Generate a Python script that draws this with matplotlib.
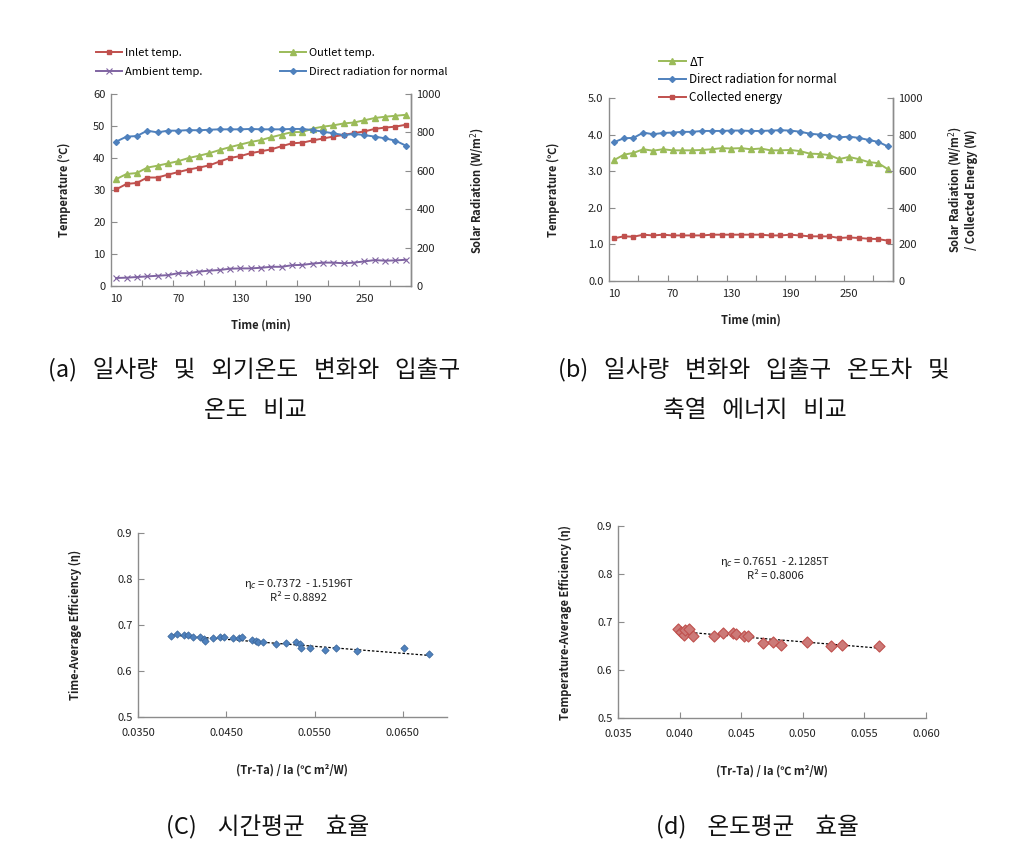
import numpy as np
import matplotlib
matplotlib.use('Agg')
import matplotlib.pyplot as plt
from matplotlib.ticker import FixedLocator, FormatStrFormatter

plt.rcParams['font.family'] = ['Noto Sans CJK KR', 'DejaVu Sans']
plt.rcParams['axes.unicode_minus'] = False

# ── Data ───────────────────────────────────────────────────────────────────────
time_min = [10, 20, 30, 40, 50, 60, 70, 80, 90, 100, 110, 120, 130, 140, 150,
            160, 170, 180, 190, 200, 210, 220, 230, 240, 250, 260, 270, 280, 290]
time_labels = [10, 70, 130, 190, 250]

# (a) temperatures [C] and radiation [W/m2]
inlet_temp = [30.2, 31.9, 32.2, 33.9, 33.9, 34.8, 35.6, 36.4, 37.0, 37.7, 38.9,
              40.0, 40.6, 41.5, 42.1, 42.7, 43.7, 44.6, 44.8, 45.5, 46.1, 46.7,
              47.2, 47.8, 48.3, 49.1, 49.5, 49.8, 50.4]
outlet_temp = [33.4, 35.0, 35.3, 37.0, 37.6, 38.3, 39.0, 40.0, 40.7, 41.5, 42.5,
               43.4, 44.2, 45.0, 45.6, 46.5, 47.3, 48.1, 48.1, 49.2, 49.8, 50.2,
               50.8, 51.1, 51.8, 52.5, 52.9, 53.2, 53.5]
ambient_temp = [2.5, 2.6, 2.8, 3.0, 3.2, 3.4, 4.0, 4.0, 4.5, 4.8, 5.0, 5.4, 5.5,
                5.5, 5.7, 6.0, 6.0, 6.5, 6.6, 7.0, 7.3, 7.3, 7.1, 7.3, 7.7, 8.1,
                7.9, 8.0, 8.2]
direct_rad_a = [752, 778, 781, 809, 800, 809, 809, 812, 811, 814, 816, 816, 816,
                818, 816, 816, 816, 818, 818, 812, 804, 795, 786, 792, 786, 778,
                769, 757, 731]

# (b) delta T [C], radiation [W/m2], collected energy [W]
delta_t = [3.30, 3.45, 3.50, 3.60, 3.56, 3.60, 3.57, 3.57, 3.57, 3.58, 3.60,
           3.63, 3.62, 3.63, 3.60, 3.62, 3.57, 3.57, 3.58, 3.55, 3.48, 3.47,
           3.44, 3.33, 3.39, 3.33, 3.25, 3.22, 3.05]
direct_rad_b = [758, 780, 782, 811, 802, 809, 811, 815, 815, 820, 820, 820, 822,
                822, 820, 820, 822, 824, 822, 816, 805, 800, 795, 785, 789, 782,
                771, 760, 735]
collected_energy = [233, 244, 242, 253, 249, 253, 249, 249, 249, 249, 253, 253,
                    253, 253, 253, 253, 249, 249, 253, 249, 244, 244, 244, 235,
                    238, 235, 231, 229, 220]

# (c) time-average efficiency
c_x = [0.03877, 0.03942, 0.04017, 0.04070, 0.04123, 0.04198, 0.04243, 0.04255,
       0.04345, 0.04432, 0.04477, 0.04575, 0.04640, 0.04674, 0.04791, 0.04840,
       0.04855, 0.04915, 0.05058, 0.05172, 0.05285, 0.05338, 0.05345, 0.05451,
       0.05621, 0.05745, 0.05979, 0.06508, 0.06791]
c_y = [0.677, 0.681, 0.679, 0.678, 0.674, 0.673, 0.670, 0.665, 0.672, 0.675,
       0.673, 0.672, 0.671, 0.673, 0.667, 0.665, 0.662, 0.664, 0.658, 0.661,
       0.662, 0.658, 0.649, 0.651, 0.645, 0.651, 0.644, 0.650, 0.636]
c_a, c_b = 0.7372, -1.5196

# (d) temperature-average efficiency
d_x = [0.03984, 0.04011, 0.04032, 0.04046, 0.04073, 0.04108, 0.04281, 0.04349,
       0.04430, 0.04459, 0.04519, 0.04559, 0.04676, 0.04757, 0.04822, 0.05032,
       0.05230, 0.05319, 0.05622]
d_y = [0.686, 0.680, 0.672, 0.683, 0.685, 0.671, 0.670, 0.677, 0.677, 0.674,
       0.671, 0.670, 0.656, 0.659, 0.652, 0.658, 0.650, 0.653, 0.650]
d_a, d_b = 0.7651, -2.1285

# ── Style ──────────────────────────────────────────────────────────────────────
RED    = '#C0504D'
GREEN  = '#9BBB59'
PURPLE = '#8064A2'
BLUE   = '#4F81BD'
SPINE  = '#8c8c8c'
TXT    = '#222222'

W, H = 1029, 856
fig = plt.figure(figsize=(W / 100, H / 100), dpi=100)
fig.patch.set_facecolor('white')


def px_axes(x0, y0, x1, y1):
    """Axes from pixel box (top-left origin)."""
    return fig.add_axes([x0 / W, 1 - y1 / H, (x1 - x0) / W, (y1 - y0) / H])


def style_axes(ax, right=False):
    ax.spines['top'].set_visible(False)
    if not right:
        ax.spines['right'].set_visible(False)
    for side in ('left', 'bottom', 'right'):
        ax.spines[side].set_color(SPINE)
        ax.spines[side].set_linewidth(1.0)
    ax.tick_params(direction='in', length=4, width=0.8, color=SPINE,
                   labelsize=8, labelcolor=TXT, pad=4)


def time_axis(ax):
    ax.set_xlim(5, 295)
    ax.xaxis.set_major_locator(FixedLocator(time_labels))
    ax.xaxis.set_minor_locator(FixedLocator(np.arange(35, 295, 30)))
    ax.tick_params(axis='x', which='major', length=0, pad=6)
    ax.tick_params(axis='x', which='minor', direction='in', length=4,
                   width=0.8, color=SPINE)
    ax.set_xlabel('Time (min)', fontsize=8, fontweight='bold', color=TXT,
                  labelpad=10)


label_kw = dict(fontsize=8, fontweight='bold', color=TXT)

# ── (a) ────────────────────────────────────────────────────────────────────────
ax_a = px_axes(111, 94, 411, 286)
ax_a2 = ax_a.twinx()
style_axes(ax_a, right=True)
style_axes(ax_a2, right=True)
ax_a2.spines['left'].set_visible(False)
ax_a2.spines['bottom'].set_visible(False)

l_in, = ax_a.plot(time_min, inlet_temp, color=RED, lw=1.4, marker='s', ms=3.5,
                  label='Inlet temp.')
l_out, = ax_a.plot(time_min, outlet_temp, color=GREEN, lw=1.4, marker='^', ms=4,
                   label='Outlet temp.')
l_amb, = ax_a.plot(time_min, ambient_temp, color=PURPLE, lw=1.4, marker='x', ms=4,
                   mew=0.8, label='Ambient temp.')
l_dir, = ax_a2.plot(time_min, direct_rad_a, color=BLUE, lw=1.4, marker='D', ms=3,
                    label='Direct radiation for normal')

ax_a.set_ylim(0, 60)
ax_a.set_yticks(np.arange(0, 61, 10))
ax_a2.set_ylim(0, 1000)
ax_a2.set_yticks(np.arange(0, 1001, 200))
time_axis(ax_a)
ax_a.set_ylabel('Temperature (℃)', labelpad=16, **label_kw)
ax_a2.set_ylabel('Solar Radiation (W/m$^2$)', labelpad=20, **label_kw)

fig.legend(handles=[l_in, l_amb, l_out, l_dir], ncol=2, frameon=False,
           loc='upper left', bbox_to_anchor=(86 / W, 1 - 38 / H),
           fontsize=8, handlelength=2.3, handletextpad=0.3,
           columnspacing=7.0, labelspacing=0.8)

# ── (b) ────────────────────────────────────────────────────────────────────────
ax_b = px_axes(609, 98, 893, 281)
ax_b2 = ax_b.twinx()
style_axes(ax_b, right=True)
style_axes(ax_b2, right=True)
ax_b2.spines['left'].set_visible(False)
ax_b2.spines['bottom'].set_visible(False)

l_dt, = ax_b.plot(time_min, delta_t, color=GREEN, lw=1.4, marker='^', ms=4,
                  label='ΔT')
l_dr, = ax_b2.plot(time_min, direct_rad_b, color=BLUE, lw=1.4, marker='D', ms=3,
                   label='Direct radiation for normal')
l_ce, = ax_b2.plot(time_min, collected_energy, color=RED, lw=1.4, marker='s',
                   ms=3.5, label='Collected energy')

ax_b.set_ylim(0, 5)
ax_b.set_yticks(np.arange(0, 5.01, 1.0))
ax_b.yaxis.set_major_formatter(FormatStrFormatter('%.1f'))
ax_b2.set_ylim(0, 1000)
ax_b2.set_yticks(np.arange(0, 1001, 200))
time_axis(ax_b)
ax_b.set_ylabel('Temperature (℃)', labelpad=20, **label_kw)
ax_b2.set_ylabel('Solar Radiation (W/m$^2$)\n/ Collected Energy (W)',
                 labelpad=17, linespacing=1.1, **label_kw)

fig.legend(handles=[l_dt, l_dr, l_ce], frameon=False, loc='upper left',
           bbox_to_anchor=(648 / W, 1 - 45 / H), fontsize=8.5,
           handlelength=2.3, handletextpad=0.3, labelspacing=0.4)

# ── (c) ────────────────────────────────────────────────────────────────────────
ax_c = px_axes(138, 533, 447, 717)
style_axes(ax_c)
ax_c.scatter(c_x, c_y, marker='D', s=14, color=BLUE, edgecolor='#3a6699',
             linewidth=0.5, zorder=3)
tx = np.array([min(c_x), max(c_x)])
ax_c.plot(tx, c_a + c_b * tx, color='black', lw=0.9, ls=(0, (2, 1.5)), zorder=2)
ax_c.set_xlim(0.035, 0.070)
ax_c.set_xticks([0.035, 0.045, 0.055, 0.065])
ax_c.xaxis.set_major_formatter(FormatStrFormatter('%.4f'))
ax_c.tick_params(axis='x', pad=8)
ax_c.set_ylim(0.5, 0.9)
ax_c.set_yticks([0.5, 0.6, 0.7, 0.8, 0.9])
ax_c.yaxis.set_major_formatter(FormatStrFormatter('%.1f'))
ax_c.set_xlabel('(Tr-Ta) / Ia (℃ m²/W)', labelpad=18, **label_kw)
ax_c.set_ylabel('Time-Average Efficiency (η)', labelpad=25, **label_kw)
ax_c.text(0.52, 0.69, 'η$_c$ = 0.7372  - 1.5196T\nR² = 0.8892',
          transform=ax_c.transAxes, ha='center', va='center', fontsize=8,
          color=TXT, linespacing=1.3)

# ── (d) ────────────────────────────────────────────────────────────────────────
ax_d = px_axes(618, 526, 926, 718)
style_axes(ax_d)
ax_d.scatter(d_x, d_y, marker='D', s=32, color='#cc7a78', edgecolor=RED,
             linewidth=0.8, zorder=3)
tx = np.array([min(d_x), max(d_x)])
ax_d.plot(tx, d_a + d_b * tx, color='black', lw=0.9, ls=(0, (2, 1.5)), zorder=2)
ax_d.set_xlim(0.035, 0.060)
ax_d.set_xticks(np.arange(0.035, 0.0601, 0.005))
ax_d.xaxis.set_major_formatter(FormatStrFormatter('%.3f'))
ax_d.tick_params(axis='x', pad=8)
ax_d.set_ylim(0.5, 0.9)
ax_d.set_yticks([0.5, 0.6, 0.7, 0.8, 0.9])
ax_d.yaxis.set_major_formatter(FormatStrFormatter('%.1f'))
ax_d.set_xlabel('(Tr-Ta) / Ia (℃ m²/W)', labelpad=18, **label_kw)
ax_d.set_ylabel('Temperature-Average Efficiency (η)', labelpad=18, **label_kw)
ax_d.text(0.51, 0.78, 'η$_c$ = 0.7651  - 2.1285T\nR² = 0.8006',
          transform=ax_d.transAxes, ha='center', va='center', fontsize=8,
          color=TXT, linespacing=1.3)

# ── Captions ───────────────────────────────────────────────────────────────────
cap_kw = dict(fontsize=17, color='#111111', ha='center', va='center')
fig.text(254 / W, 1 - 370 / H, '(a)   일사량   및   외기온도   변화와   입출구', **cap_kw)
fig.text(255 / W, 1 - 410 / H, '온도   비교', **cap_kw)
fig.text(754 / W, 1 - 370 / H, '(b)   일사량   변화와   입출구   온도차   및', **cap_kw)
fig.text(755 / W, 1 - 410 / H, '축열   에너지   비교', **cap_kw)
fig.text(268 / W, 1 - 827 / H, '(C)    시간평균    효율', **cap_kw)
fig.text(757 / W, 1 - 827 / H, '(d)    온도평균    효율', **cap_kw)

fig.savefig('out.png', dpi=100, facecolor='white')
